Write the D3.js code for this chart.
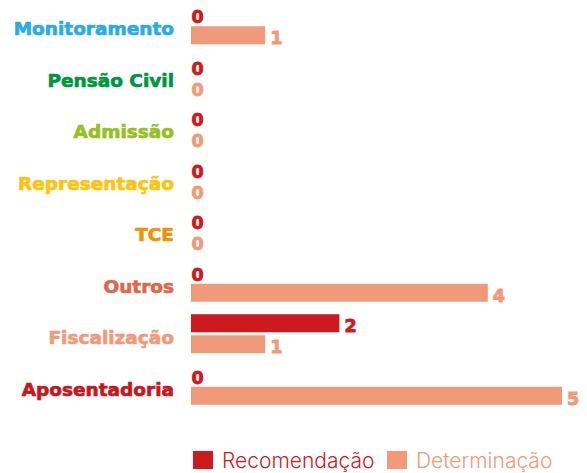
<!DOCTYPE html>
<html>
<head>
<meta charset="utf-8">
<script src="https://cdn.jsdelivr.net/npm/d3@7"></script>
<style>
  html, body { margin: 0; padding: 0; background: #fff; }
  svg { display: block; }
</style>
</head>
<body>
<svg id="chart" width="587" height="473"></svg>
<script>
// Categories, top to bottom, with their label colours
const categories = ["Monitoramento", "Pensão Civil", "Admissão", "Representação", "TCE", "Outros", "Fiscalização", "Aposentadoria"];
const categoryColors = ["#2AABE3", "#009640", "#95C11F", "#FFC20E", "#F39200", "#E0674B", "#F19A7A", "#C8161D"];

// Series values, one per category
const seriesNames = ["Recomendação", "Determinação"];
const seriesColors = ["#CC1A1F", "#F19A7A"];
const recomendacao = [0, 0, 0, 0, 0, 0, 2, 0];
const determinacao = [1, 0, 0, 0, 0, 4, 1, 5];

const svg = d3.select("#chart");
const labelFont = "'DejaVu Sans', sans-serif";

const x = d3.scaleLinear().domain([0, 5]).range([191, 562]);
const y = d3.scaleBand().domain(categories).range([-1, 411]).paddingInner(0).paddingOuter(0);
const ySub = d3.scaleBand().domain(seriesNames).range([0, y.bandwidth()]).paddingInner(0.143).paddingOuter(0.297);

const rows = categories.map((c, i) => ({
  category: c,
  color: categoryColors[i],
  values: [recomendacao[i], determinacao[i]]
}));

// Category labels (a thin same-colour stroke gives a heavier weight)
svg.append("g")
  .selectAll("text")
  .data(rows)
  .join("text")
  .attr("x", 174)
  .attr("y", d => y(d.category) + y.bandwidth() / 2 + 4)
  .attr("text-anchor", "end")
  .attr("dominant-baseline", "central")
  .attr("font-family", labelFont)
  .attr("font-weight", 700)
  .attr("font-size", 18.5)
  .attr("fill", d => d.color)
  .attr("stroke", d => d.color)
  .attr("stroke-width", 0.7)
  .text(d => d.category);

// Bars and value labels
const groups = svg.append("g")
  .selectAll("g")
  .data(rows)
  .join("g")
  .attr("transform", d => `translate(0,${y(d.category)})`);

const cells = groups.selectAll("g")
  .data(d => d.values.map((v, j) => ({ series: seriesNames[j], color: seriesColors[j], value: v })))
  .join("g");

cells.append("rect")
  .attr("x", x(0))
  .attr("y", d => ySub(d.series))
  .attr("width", d => x(d.value) - x(0))
  .attr("height", ySub.bandwidth())
  .attr("fill", d => d.color);

cells.append("text")
  .attr("x", d => x(d.value) + (d.value > 0 ? 5 : 0.5))
  .attr("y", d => ySub(d.series) + ySub.bandwidth() / 2 + 3)
  .attr("dominant-baseline", "central")
  .attr("font-family", labelFont)
  .attr("font-weight", 700)
  .attr("font-size", 17.5)
  .attr("fill", d => d.color)
  .attr("stroke", d => d.color)
  .attr("stroke-width", 0.9)
  .text(d => d.value);

// Legend
const legendX = [193, 387];
const legend = svg.append("g")
  .selectAll("g")
  .data(seriesNames)
  .join("g")
  .attr("transform", (d, i) => `translate(${legendX[i]},451)`);

legend.append("rect")
  .attr("width", 20)
  .attr("height", 18)
  .attr("fill", (d, i) => seriesColors[i]);

legend.append("text")
  .attr("x", 29)
  .attr("y", 17)
  .attr("font-family", "'Inter', sans-serif")
  .attr("font-weight", 300)
  .attr("font-size", 21)
  .attr("fill", (d, i) => seriesColors[i])
  .text(d => d);
</script>
</body>
</html>
